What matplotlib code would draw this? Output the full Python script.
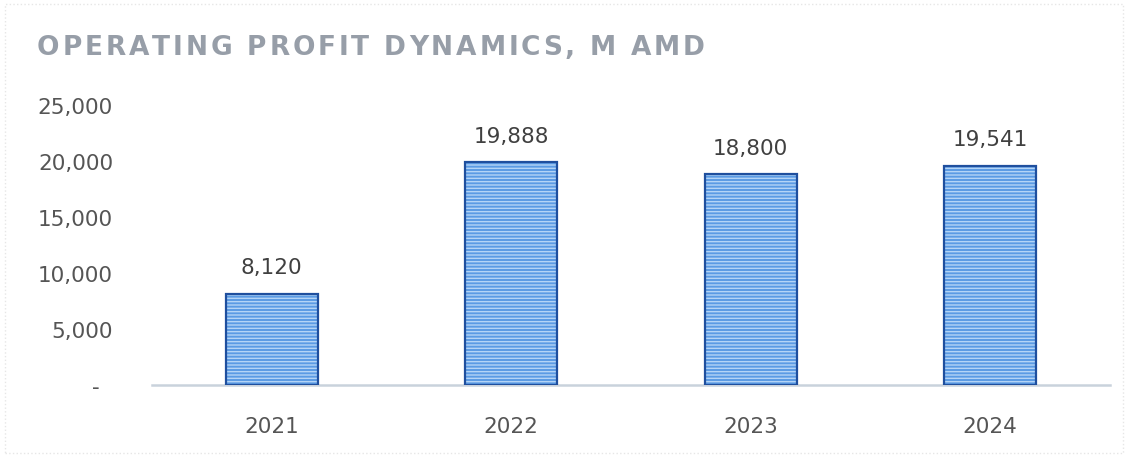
import numpy as np
import matplotlib
matplotlib.use("Agg")
import matplotlib.pyplot as plt
from matplotlib.patches import Rectangle

years = ["2021", "2022", "2023", "2024"]
profit = [8120, 19888, 18800, 19541]
y_ticks = [0, 5000, 10000, 15000, 20000, 25000]
title = "OPERATING PROFIT DYNAMICS, M AMD"

plt.rcParams["font.family"] = ["DejaVu Sans"]

fig = plt.figure(figsize=(11.28, 4.56), dpi=100)
ax = fig.add_axes([152 / 1128, 70 / 456, 958 / 1128, 280 / 456])

x = np.arange(len(years))
# fill with lighter horizontal stripes, then a dark outline on top
ax.bar(x, profit, width=0.385, color="#5b9be4", edgecolor="#b4d4f6",
       hatch="-----", linewidth=0, zorder=2)
ax.bar(x, profit, width=0.385, color="none", edgecolor="#1f4f9e",
       linewidth=1.6, zorder=3)

for xi, v in zip(x, profit):
    ax.annotate(f"{v:,}", (xi, v), xytext=(0, 12), textcoords="offset points",
                ha="center", va="bottom", fontsize=15.5, color="#404040")

ax.set_xlim(-0.5, 3.5)
ax.set_ylim(0, 25000)
ax.set_xticks(x)
ax.set_xticklabels(years)
ax.set_yticks(y_ticks)
ax.set_yticklabels(["-  " if t == 0 else f"{t:,}" for t in y_ticks])
ax.tick_params(axis="x", length=0, pad=22, labelsize=15.5, labelcolor="#555555")
ax.tick_params(axis="y", length=0, pad=28, labelsize=15.5, labelcolor="#555555")
for s in ["top", "right", "left"]:
    ax.spines[s].set_visible(False)
ax.spines["bottom"].set_color("#c9d2dc")
ax.spines["bottom"].set_linewidth(1.8)

# letter-spaced title, placed one character at a time
renderer = fig.canvas.get_renderer()
title_kw = dict(fontsize=19, fontweight="bold", color="#979ea8",
                va="baseline", ha="left")
cx = 37
start, target = 37, 705
widths = []
for ch in title:
    if ch == " ":
        widths.append(None)
        continue
    t = fig.text(0, 0, ch, **title_kw)
    widths.append(t.get_window_extent(renderer).width)
    t.remove()
space_w = 9
total = sum(w if w is not None else space_w for w in widths)
track = (target - start - total) / (len(title) - 1)
for ch, w in zip(title, widths):
    if w is None:
        cx += space_w + track
        continue
    fig.text(cx / 1128, 1 - 55 / 456, ch, **title_kw)
    cx += w + track

# faint scan border
fig.patches.append(Rectangle((0.004, 0.005), 0.992, 0.985, transform=fig.transFigure,
                             fill=False, edgecolor="#e6e6e6", linewidth=1, linestyle=":"))

fig.savefig("out.png", dpi=100, facecolor="white")
